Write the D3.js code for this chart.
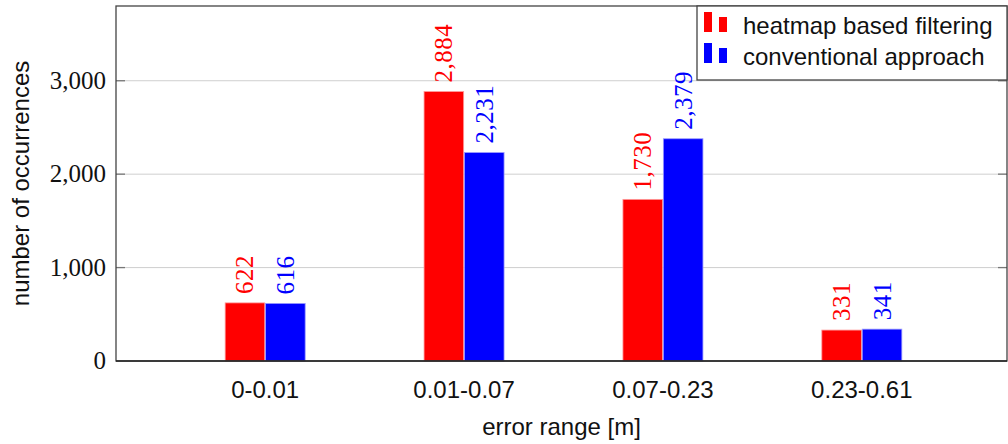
<!DOCTYPE html>
<html lang="en">
<head>
<meta charset="UTF-8">
<title>Error range histogram</title>
<script src="https://d3js.org/d3.v7.min.js"></script>
<style>
  body { margin: 0; background: #fff; }
  .serif { font-family: "Liberation Serif", "DejaVu Serif", serif; font-size: 25px; }
  .sans { font-family: "Liberation Sans", Arial, sans-serif; font-size: 24px; fill: #111; }
  .grid line { stroke: #cfcfcf; stroke-width: 1px; }
</style>
</head>
<body>
<svg width="1008" height="444"></svg>
<script>
  // data
  const categories = ["0-0.01", "0.01-0.07", "0.07-0.23", "0.23-0.61"];
  const seriesNames = ["heatmap based filtering", "conventional approach"];
  const heatmapValues = [622, 2884, 1730, 331];
  const conventionalValues = [616, 2231, 2379, 341];
  const yTicks = [0, 1000, 2000, 3000];
  const colors = ["#ff0000", "#0000ff"];
  const strokes = ["#ff9a9a", "#9a9aff"];

  const svg = d3.select("svg");
  const pLeft = 116, pRight = 1007, pTop = 6, pBottom = 361;

  const x = d3.scalePoint().domain(categories).range([pLeft, pRight + 4]).padding(0.75);
  const xs = d3.scaleBand().domain([0, 1]).range([-40, 40]).paddingInner(0.02);
  const y = d3.scaleLinear().domain([0, 3800]).range([pBottom, pTop]);
  const fmt = d3.format(",");

  // gridlines
  svg.append("g").attr("class", "grid")
    .selectAll("line").data(yTicks.slice(1)).enter().append("line")
    .attr("x1", pLeft).attr("x2", pRight)
    .attr("y1", d => y(d)).attr("y2", d => y(d));

  // tick marks (inside, both sides)
  svg.append("g").selectAll("line").data(yTicks.slice(1)).enter().append("line")
    .attr("x1", pLeft).attr("x2", pLeft + 9)
    .attr("y1", d => y(d)).attr("y2", d => y(d))
    .attr("stroke", "#777").attr("stroke-width", 1.3);
  svg.append("g").selectAll("line").data(yTicks.slice(1)).enter().append("line")
    .attr("x1", pRight - 9).attr("x2", pRight)
    .attr("y1", d => y(d)).attr("y2", d => y(d))
    .attr("stroke", "#777").attr("stroke-width", 1.3);

  // bars
  const series = [heatmapValues, conventionalValues];
  series.forEach((vals, s) => {
    const g = svg.append("g");
    g.selectAll("rect").data(vals).enter().append("rect")
      .attr("x", (d, i) => x(categories[i]) + xs(s))
      .attr("width", xs.bandwidth())
      .attr("y", d => y(d))
      .attr("height", d => y(0) - y(d))
      .attr("fill", colors[s])
      .attr("stroke", strokes[s]).attr("stroke-width", 0.8);

    g.selectAll("text").data(vals).enter().append("text")
      .attr("class", "serif")
      .attr("fill", colors[s])
      .attr("letter-spacing", "0.5px")
      .attr("transform", (d, i) =>
        `translate(${x(categories[i]) + xs(s) + xs.bandwidth() / 2},${y(d) - 9}) rotate(-90)`)
      .attr("dominant-baseline", "central")
      .attr("text-anchor", "start")
      .text(d => fmt(d));
  });

  // frame
  svg.append("rect")
    .attr("x", pLeft).attr("y", pTop)
    .attr("width", pRight - pLeft).attr("height", pBottom - pTop)
    .attr("fill", "none").attr("stroke", "#444").attr("stroke-width", 1.3);
  svg.append("line")
    .attr("x1", pLeft).attr("x2", pRight).attr("y1", pBottom).attr("y2", pBottom)
    .attr("stroke", "#222").attr("stroke-width", 1.4);

  // y tick labels
  svg.append("g").selectAll("text").data(yTicks).enter().append("text")
    .attr("class", "serif")
    .attr("x", pLeft - 10).attr("y", d => y(d) + 8)
    .attr("text-anchor", "end")
    .attr("fill", "#111")
    .text(d => fmt(d));

  // x tick labels
  svg.append("g").selectAll("text").data(categories).enter().append("text")
    .attr("class", "sans")
    .attr("x", d => x(d)).attr("y", 398)
    .attr("text-anchor", "middle")
    .text(d => d);

  // axis titles
  svg.append("text").attr("class", "sans")
    .attr("x", (pLeft + pRight) / 2).attr("y", 435)
    .attr("text-anchor", "middle")
    .text("error range [m]");
  svg.append("text").attr("class", "sans")
    .attr("transform", `translate(29,${(pTop + pBottom) / 2}) rotate(-90)`)
    .attr("text-anchor", "middle")
    .text("number of occurrences");

  // legend
  const lg = svg.append("g");
  lg.append("rect")
    .attr("x", 697).attr("y", pTop).attr("width", pRight - 697).attr("height", 74)
    .attr("fill", "#fff").attr("stroke", "#444").attr("stroke-width", 1.3);
  seriesNames.forEach((name, s) => {
    const base = 32 + s * 31;
    lg.append("rect").attr("x", 704).attr("y", base - 20).attr("width", 8).attr("height", 20)
      .attr("fill", colors[s]);
    lg.append("rect").attr("x", 719).attr("y", base - 15).attr("width", 8).attr("height", 15)
      .attr("fill", colors[s]);
    lg.append("text").attr("class", "sans")
      .attr("x", 743).attr("y", base + 2)
      .text(name);
  });
</script>
</body>
</html>
